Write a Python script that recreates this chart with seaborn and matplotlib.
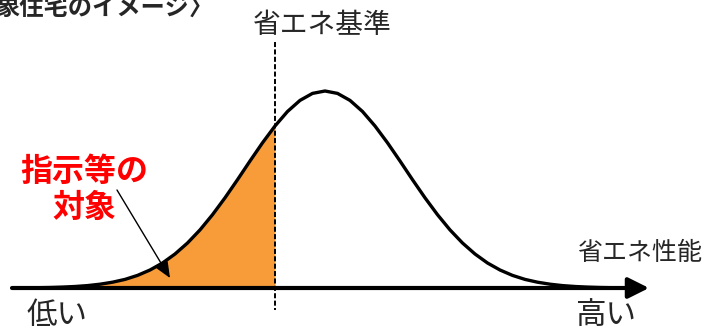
import numpy as np
import pandas as pd
import seaborn as sns
import matplotlib.pyplot as plt

# values (pixel-like units, x = position, y = height above baseline)
curve_x = [25, 37.5, 50, 62.5, 75, 87.5, 100, 112.5, 125, 137.5, 150, 162.5,
           175, 187.5, 200, 212.5, 225, 237.5, 250, 262.5, 275, 287.5, 300,
           312.5, 325, 337.5, 350, 362.5, 375, 387.5, 400, 412.5, 425, 437.5,
           450, 462.5, 475, 487.5, 500, 512.5, 525, 537.5, 550, 562.5, 575,
           587.5, 600, 612.5, 625]
curve_y = [0, 0.3, 0.5, 0.9, 1.5, 2.4, 3.8, 5.8, 8.6, 12.6, 18, 25,
           34, 45, 58.1, 73.3, 90.2, 108.3, 127, 145.2, 162, 176.5, 187.6,
           194.6, 197, 194.6, 187.6, 176.5, 162, 145.2, 127, 108.3, 90.2, 73.3,
           58.1, 45, 34, 25, 18, 12.6, 8.6, 5.8, 3.8, 2.4, 1.5,
           0.9, 0.5, 0.3, 0]
standard_x = 275
fill_from = 25

title_text = "象住宅のイメージ〉"
standard_label = "省エネ基準"
target_label = "指示等の\n対象"
axis_label = "省エネ性能"
low_label = "低い"
high_label = "高い"

sns.set_theme(style="white")
plt.rcParams['font.family'] = ['Noto Sans CJK JP', 'DejaVu Sans']

df = pd.DataFrame({'x': curve_x, 'y': curve_y})

fig = plt.figure(figsize=(7.06, 3.28), dpi=100)
ax = fig.add_axes([0, 0, 1, 1])
ax.set_xlim(0, 706)
ax.set_ylim(-40, 288)
ax.axis('off')

# shaded part below the standard
part = df[(df['x'] >= fill_from) & (df['x'] <= standard_x)]
ax.fill_between(part['x'], 0, part['y'], color='#F89C3A', lw=0, zorder=1)

sns.lineplot(data=df, x='x', y='y', color='black', lw=2.4, ax=ax, zorder=3)
for ln in ax.lines:
    ln.set_solid_joinstyle('round')

# horizontal axis with arrow
ax.annotate('', xy=(649, 0), xytext=(12, 0),
            arrowprops=dict(arrowstyle='-|>,head_length=0.9,head_width=0.45',
                            color='black', lw=3, shrinkA=0, shrinkB=0,
                            mutation_scale=14), zorder=4)

# dashed standard line
ax.plot([standard_x, standard_x], [246, -22], color='black', lw=1.4,
        ls=(0, (2.6, 1.2)), zorder=5)

# pointer arrow
ax.annotate('', xy=(170, 10), xytext=(117, 98),
            arrowprops=dict(arrowstyle='-|>,head_length=0.7,head_width=0.3',
                            color='black', lw=1, shrinkA=0, shrinkB=0,
                            mutation_scale=14), zorder=6)

ax.text(-5, 280, title_text, fontsize=17.5, fontweight='bold', ha='left', va='center')
ax.text(322, 263, standard_label, fontsize=20, ha='center', va='center')
ax.text(84, 98, target_label, fontsize=23, fontweight='bold', color='#FF0000',
        ha='center', va='center', linespacing=1.15)
ax.text(640, 35, axis_label, fontsize=18, ha='center', va='center')
ax.text(57, -27, low_label, fontsize=22, ha='center', va='center')
ax.text(606, -27, high_label, fontsize=22, ha='center', va='center')

fig.savefig('out.png', dpi=100)
